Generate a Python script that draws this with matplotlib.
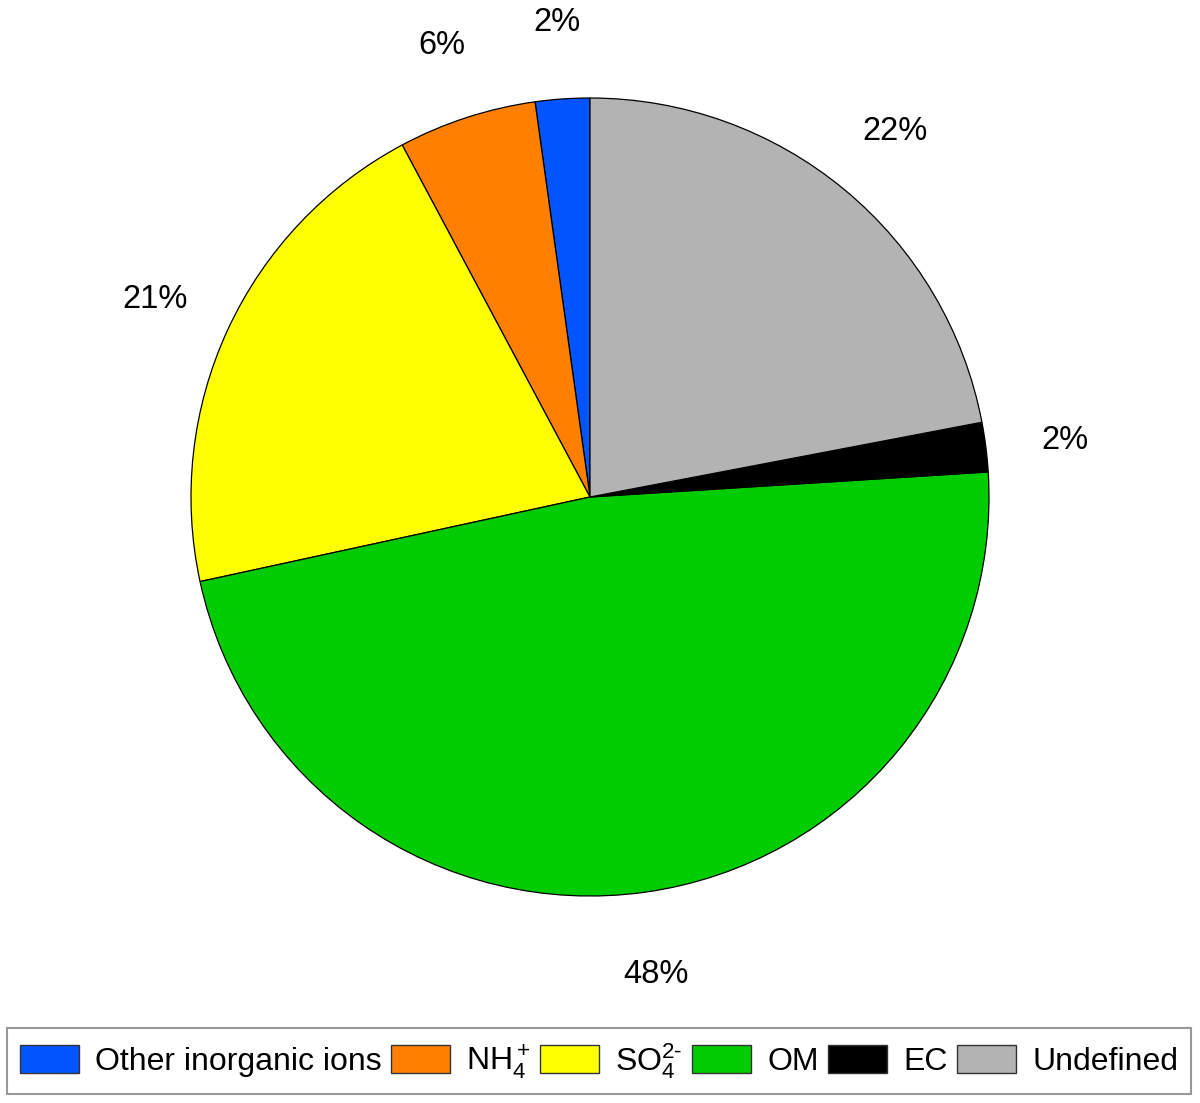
import matplotlib.pyplot as plt

plt.rcParams['font.family'] = ['Liberation Sans', 'DejaVu Sans']
plt.rcParams['mathtext.fontset'] = 'custom'
plt.rcParams['mathtext.rm'] = 'Liberation Sans'
plt.rcParams['mathtext.it'] = 'Liberation Sans:italic'
plt.rcParams['mathtext.bf'] = 'Liberation Sans:bold'

# composition (%), counterclockwise from the top
names = ['Other inorganic ions', r'NH$_4^+$', r'SO$_4^{2\text{-}}$', 'OM', 'EC', 'Undefined']
shares = [2.2, 5.6, 20.6, 47.6, 2.0, 22.0]
colors = ['#0055ff', '#ff8000', '#ffff00', '#00cc00', '#000000', '#b3b3b3']

fig = plt.figure(figsize=(12, 11.03), dpi=100)
ax = fig.add_axes([191 / 1200, 1 - 896 / 1103, 798 / 1200, 798 / 1103])

wedges, texts, autotexts = ax.pie(shares, colors=colors, startangle=90, counterclock=True,
                                  autopct=lambda p: f'{round(p):d}%', pctdistance=1.2,
                                  wedgeprops=dict(edgecolor='black', linewidth=0.9),
                                  textprops=dict(fontsize=23.5), radius=1.0)
for t in autotexts:
    t.set_va('center_baseline')
ax.set_xlim(-1, 1)
ax.set_ylim(-1, 1)
ax.set_aspect('equal')

leg = fig.legend(wedges, names, loc='center', bbox_to_anchor=(0.4992, 1 - 1061 / 1103),
                 ncol=6, fontsize=23, frameon=True, fancybox=False,
                 handlelength=1.85, handleheight=0.95, handletextpad=0.5,
                 columnspacing=0.3, borderpad=0.4, borderaxespad=0)
leg.get_frame().set_edgecolor('#808080')
leg.get_frame().set_linewidth(1.5)
for p in leg.get_patches():
    p.set_linewidth(1.0)
    p.set_edgecolor('#333333')

fig.savefig('out.png', dpi=100)
